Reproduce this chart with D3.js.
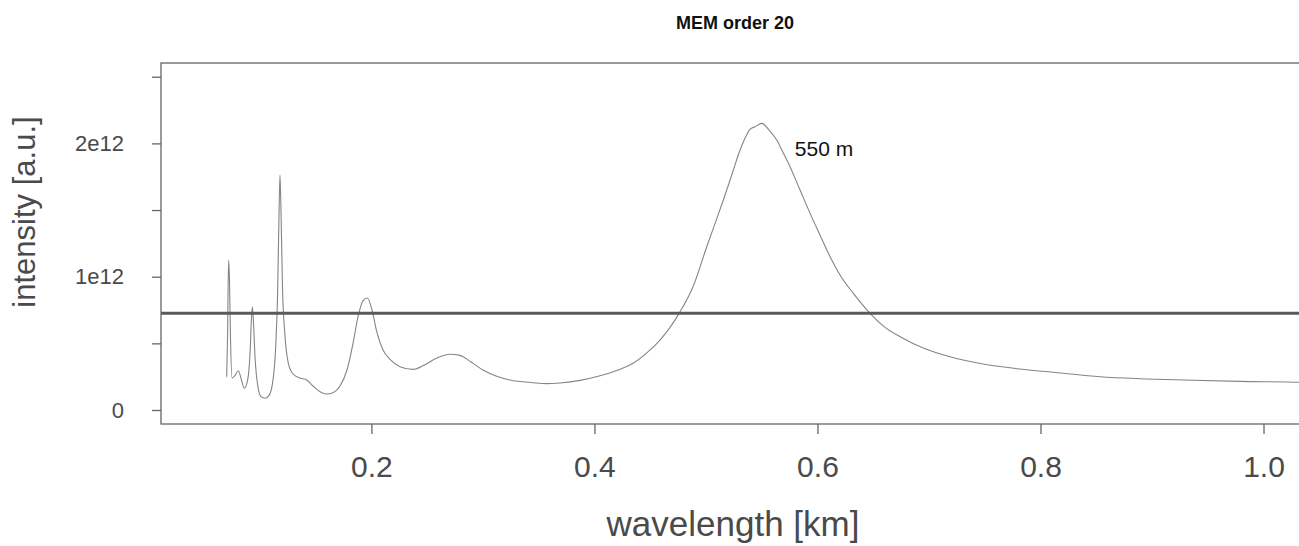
<!DOCTYPE html>
<html>
<head>
<meta charset="utf-8">
<script src="https://cdn.jsdelivr.net/npm/d3@7"></script>
<style>
  body { margin: 0; background: #fff; }
  text { font-family: "Liberation Sans", Arial, sans-serif; }
</style>
</head>
<body>
<svg id="chart" width="1299" height="546"></svg>
<script>
// wavelength in km, intensity in arbitrary units
const wavelength = [
    0.0702, 0.0710, 0.0719, 0.0727, 0.0736, 0.0750, 0.0777, 0.0806, 0.0830, 0.0860,
    0.0889, 0.0911, 0.0924, 0.0932, 0.0941, 0.0956, 0.0983, 0.1010, 0.1046, 0.1082,
    0.1113, 0.1140, 0.1158, 0.1171, 0.1180, 0.1189, 0.1203, 0.1221, 0.1255, 0.1297,
    0.1360, 0.1420, 0.1476, 0.1539, 0.1599, 0.1656, 0.1718, 0.1781, 0.1835, 0.1880,
    0.1925, 0.1963, 0.2005, 0.2050, 0.2104, 0.2167, 0.2256, 0.2373, 0.2480, 0.2588,
    0.2704, 0.2794, 0.2893, 0.3000, 0.3117, 0.3243, 0.3449, 0.3570, 0.3691, 0.3871,
    0.4050, 0.4212, 0.4346, 0.4472, 0.4588, 0.4678, 0.4759, 0.4884, 0.5007, 0.5082,
    0.5156, 0.5234, 0.5306, 0.5351, 0.5395, 0.5441, 0.5501, 0.5566, 0.5635, 0.5692,
    0.5754, 0.5844, 0.5934, 0.6024, 0.6113, 0.6212, 0.6322, 0.6472, 0.6606, 0.6741,
    0.6965, 0.7189, 0.7485, 0.7790, 0.8158, 0.8534, 0.8893, 0.9278, 0.9790, 1.0319,
    1.0400
];
const intensity = [
    0.25e12, 0.55e12, 1.125e12, 0.98e12, 0.55e12, 0.24e12, 0.26e12, 0.295e12, 0.24e12, 0.163e12,
    0.22e12, 0.42e12, 0.68e12, 0.775e12, 0.68e12, 0.40e12, 0.17e12, 0.10e12, 0.088e12, 0.11e12,
    0.20e12, 0.45e12, 0.85e12, 1.45e12, 1.763e12, 1.50e12, 0.90e12, 0.60e12, 0.35e12, 0.27e12,
    0.24e12, 0.225e12, 0.18e12, 0.137e12, 0.12e12, 0.13e12, 0.18e12, 0.30e12, 0.50e12, 0.70e12,
    0.82e12, 0.84e12, 0.75e12, 0.58e12, 0.45e12, 0.38e12, 0.325e12, 0.305e12, 0.34e12, 0.39e12,
    0.418e12, 0.41e12, 0.36e12, 0.30e12, 0.255e12, 0.225e12, 0.205e12, 0.198e12, 0.203e12, 0.222e12,
    0.257e12, 0.30e12, 0.35e12, 0.43e12, 0.525e12, 0.62e12, 0.725e12, 0.925e12, 1.225e12, 1.40e12,
    1.575e12, 1.77e12, 1.95e12, 2.04e12, 2.105e12, 2.125e12, 2.15e12, 2.10e12, 2.025e12, 1.93e12,
    1.825e12, 1.65e12, 1.475e12, 1.31e12, 1.15e12, 1.0e12, 0.875e12, 0.725e12, 0.62e12, 0.55e12,
    0.46e12, 0.40e12, 0.345e12, 0.31e12, 0.28e12, 0.25e12, 0.235e12, 0.225e12, 0.215e12, 0.208e12,
    0.206e12
];
const threshold = 0.725e12;
const xTicks = [0.2, 0.4, 0.6, 0.8, 1.0];
const yTicks = [0, 0.5e12, 1e12, 1.5e12, 2e12, 2.5e12];
const yTickLabels = {0: "0", 1e12: "1e12", 2e12: "2e12"};
const peakLabel = {x: 0.5501, y: 2.15e12, text: "550 m"};

const svg = d3.select('#chart');
const plotLeft = 161, plotRight = 1307, plotTop = 63, plotBottom = 424;

const x = d3.scaleLinear().domain([0.0113, 1.039]).range([plotLeft, plotRight]);
const y = d3.scaleLinear().domain([-0.105e12, 2.603e12]).range([plotBottom, plotTop]);

const axisColor = '#666';
const textColor = '#4a4a4a';

// title
svg.append('text')
    .attr('x', 735).attr('y', 29)
    .attr('text-anchor', 'middle')
    .attr('font-size', 18).attr('font-weight', 'bold')
    .attr('fill', '#111')
    .text('MEM order 20');

svg.append('defs').append('clipPath').attr('id', 'plotClip')
    .append('rect')
    .attr('x', plotLeft).attr('y', plotTop)
    .attr('width', plotRight - plotLeft).attr('height', plotBottom - plotTop);

// spectrum
const points = wavelength.map((d, i) => ({x: d, y: intensity[i]}));
const line = d3.line()
    .x((d) => x(d.x))
    .y((d) => y(d.y))
    .curve(d3.curveMonotoneX);

svg.append('path')
    .datum(points)
    .attr('clip-path', 'url(#plotClip)')
    .attr('d', line)
    .attr('fill', 'none')
    .attr('stroke', '#858585')
    .attr('stroke-width', 1.1);

// threshold line
svg.append('line')
    .attr('x1', plotLeft).attr('x2', plotRight)
    .attr('y1', y(threshold)).attr('y2', y(threshold))
    .attr('stroke', '#5a5a5a')
    .attr('stroke-width', 3);

// peak annotation
svg.append('text')
    .attr('x', x(peakLabel.x) + 33).attr('y', y(peakLabel.y) + 33)
    .attr('font-size', 21)
    .attr('fill', '#111')
    .text(peakLabel.text);

// plot box
svg.append('rect')
    .attr('x', plotLeft).attr('y', plotTop)
    .attr('width', plotRight - plotLeft).attr('height', plotBottom - plotTop)
    .attr('fill', 'none')
    .attr('stroke', axisColor)
    .attr('stroke-width', 1.3);

// x axis
const xAxis = d3.axisBottom(x)
    .tickValues(xTicks)
    .tickSize(10)
    .tickPadding(22)
    .tickFormat(d3.format('.1f'));

const gx = svg.append('g')
    .attr('transform', `translate(0,${plotBottom})`)
    .call(xAxis);
gx.select('.domain').remove();
gx.selectAll('line').attr('stroke', axisColor).attr('stroke-width', 1.3);
gx.selectAll('text')
    .attr('font-size', 30)
    .attr('font-family', '"Liberation Sans", Arial, sans-serif')
    .attr('fill', textColor);

// y axis
const yAxis = d3.axisLeft(y)
    .tickValues(yTicks)
    .tickSize(9)
    .tickPadding(28)
    .tickFormat((d) => yTickLabels[d] || '');

const gy = svg.append('g')
    .attr('transform', `translate(${plotLeft},0)`)
    .call(yAxis);
gy.select('.domain').remove();
gy.selectAll('line').attr('stroke', axisColor).attr('stroke-width', 1.3);
gy.selectAll('text')
    .attr('font-size', 22)
    .attr('font-family', '"Liberation Sans", Arial, sans-serif')
    .attr('fill', textColor);

// axis titles
svg.append('text')
    .attr('x', 733).attr('y', 536)
    .attr('text-anchor', 'middle')
    .attr('font-size', 35)
    .attr('fill', textColor)
    .text('wavelength [km]');

svg.append('text')
    .attr('transform', 'translate(35,212) rotate(-90)')
    .attr('text-anchor', 'middle')
    .attr('font-size', 31)
    .attr('fill', textColor)
    .text('intensity [a.u.]');
</script>
</body>
</html>
